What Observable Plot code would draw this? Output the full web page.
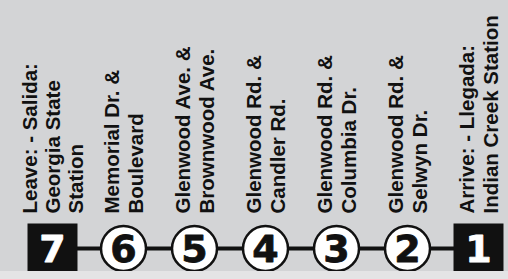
<!DOCTYPE html>
<html><head><meta charset="utf-8">
<script src="https://cdn.jsdelivr.net/npm/d3@7"></script>
<script src="https://cdn.jsdelivr.net/npm/@observablehq/plot@0.6"></script>
<style>
html,body{margin:0;padding:0;background:#e4e4e5;}
#chart{width:508px;height:279px;overflow:hidden;}
</style></head><body><div id="chart"></div>
<script>
const stops = [7, 6, 5, 4, 3, 2, 1];
const kinds = ["terminal", "stop", "stop", "stop", "stop", "stop", "terminal"];
const labels = [
  "Leave: - Salida:\nGeorgia State\nStation",
  "Memorial Dr. &\nBoulevard",
  "Glenwood Ave. &\nBrownwood Ave.",
  "Glenwood Rd. &\nCandler Rd.",
  "Glenwood Rd. &\nColumbia Dr.",
  "Glenwood Rd. &\nSelwyn Dr.",
  "Arrive: - Llegada:\nIndian Creek Station"
];
const data = stops.map((n, i) => ({n, kind: kinds[i], label: labels[i]}));
const terminals = data.filter(d => d.kind === "terminal");
const mids = data.filter(d => d.kind === "stop");
const font = "'Liberation Sans', Arial, Helvetica, sans-serif";
const digitFont = "'DejaVu Sans', 'Liberation Sans', sans-serif";
const chart = Plot.plot({
  width: 508, height: 271,
  marginTop: 225, marginBottom: 0, marginLeft: 0, marginRight: 0,
  x: {type: "point", domain: stops, range: [50, 479], padding: 0, axis: null},
  style: {background: "#d3d4d6", fontFamily: font, overflow: "hidden"},
  marks: [
    Plot.ruleY([{from: stops[0], to: stops[stops.length - 1]}], {x1: "from", x2: "to", y: null, stroke: "#111", strokeWidth: 4}),
    Plot.dot(mids, {x: "n", r: 22.5, fill: "white", stroke: "#111", strokeWidth: 2.5}),
    Plot.dot(terminals, {x: "n", symbol: "square", r: 28.2, fill: "#111", stroke: "none"}),
    Plot.text(mids, {x: "n", text: d => String(d.n), fill: "#111", stroke: "#111", strokeWidth: 0.8, fontSize: 38, fontWeight: "bold", fontFamily: digitFont, dy: 1}),
    Plot.text(terminals, {x: "n", text: d => String(d.n), fill: "white", stroke: "white", strokeWidth: 0.8, fontSize: 38, fontWeight: "bold", fontFamily: digitFont, dy: 1}),
    Plot.text(data, {x: "n", text: "label", frameAnchor: "top", dy: -12, rotate: -90, textAnchor: "start", lineAnchor: "middle", lineHeight: 1.13, fontSize: 20.5, fontWeight: "bold", fill: "#111"})
  ]
});
document.getElementById("chart").appendChild(chart);
</script></body></html>
